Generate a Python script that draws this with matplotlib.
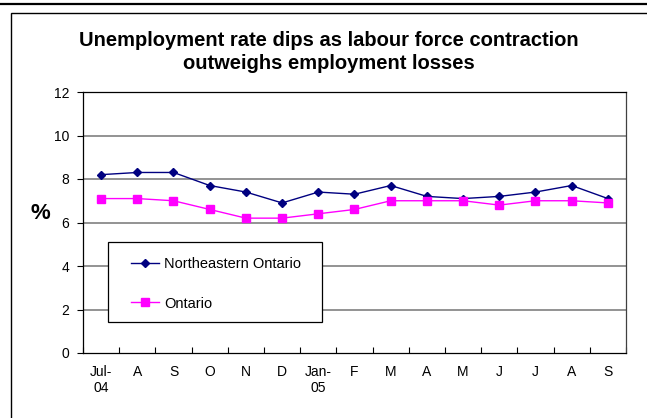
import matplotlib
matplotlib.use("Agg")
import matplotlib.pyplot as plt
from matplotlib.patches import Rectangle
from matplotlib.lines import Line2D

plt.rcParams['font.family'] = ['Liberation Sans', 'DejaVu Sans']

months = ["Jul-\n04", "A", "S", "O", "N", "D", "Jan-\n05", "F", "M", "A", "M", "J", "J", "A", "S"]
ne_ontario = [8.2, 8.3, 8.3, 7.7, 7.4, 6.9, 7.4, 7.3, 7.7, 7.2, 7.1, 7.2, 7.4, 7.7, 7.1]
ontario = [7.1, 7.1, 7.0, 6.6, 6.2, 6.2, 6.4, 6.6, 7.0, 7.0, 7.0, 6.8, 7.0, 7.0, 6.9]
yticks = [0, 2, 4, 6, 8, 10, 12]

W, H = 647, 418
fig = plt.figure(figsize=(W / 100, H / 100), dpi=100)

# top rule and outer frame
fig.add_artist(Line2D([0, 1], [1 - 4 / H, 1 - 4 / H], color="black", lw=1.6))
fig.add_artist(Rectangle((11 / W, -0.1), 1.0, 1 - 13 / H + 0.1, fill=False,
                         edgecolor="black", lw=1.0, transform=fig.transFigure))

L, R, T, B = 83, 626, 92, 353
ax = fig.add_axes([L / W, 1 - B / H, (R - L) / W, (B - T) / H])
x = list(range(len(months)))
ax.plot(x, ne_ontario, color="#000080", marker="D", markersize=4.5, lw=1.0,
        label="Northeastern Ontario")
ax.plot(x, ontario, color="#FF00FF", marker="s", markersize=5.5, lw=1.0,
        label="Ontario")

ax.set_xlim(-0.5, len(months) - 0.5)
ax.set_ylim(0, 12)
ax.set_yticks(yticks)
ax.set_yticklabels([str(v) for v in yticks], fontsize=10)
ax.set_xticks([i - 0.5 for i in range(len(months) + 1)], minor=False)
ax.set_xticklabels([])
ax.set_xticks(x, minor=True)
ax.set_xticklabels(months, minor=True, fontsize=10, va="top", linespacing=1.1)
ax.tick_params(axis="x", which="minor", length=0, pad=9)
ax.tick_params(axis="x", which="major", length=4, direction="in", width=0.8)
ax.tick_params(axis="y", length=4, direction="out", width=0.8, pad=6)
for tl in ax.get_xticklabels(minor=True):
    tl.set_multialignment("center")

for v in yticks[1:-1]:
    ax.axhline(v, color="#808080", lw=1.2, zorder=0)
for s in ax.spines.values():
    s.set_linewidth(0.9)
ax.spines["top"].set_color("black")
ax.spines["right"].set_color("#404040")

fig.text(329 / W, 1 - 52 / H,
         "Unemployment rate dips as labour force contraction\noutweighs employment losses",
         ha="center", va="center", fontsize=14.5, fontweight="bold", linespacing=1.25)
fig.text(40 / W, 1 - 213 / H, "%", ha="center", va="center", fontsize=16, fontweight="bold")

# legend box
def ax_xy(px, py):
    return (px - L) / (R - L), (B - py) / (B - T)

bx0, by0 = ax_xy(108, 322)
bx1, by1 = ax_xy(322, 242)
ax.add_patch(Rectangle((bx0, by0), bx1 - bx0, by1 - by0, transform=ax.transAxes,
                       facecolor="white", edgecolor="black", lw=0.9, zorder=3))
leg = ax.legend(loc="upper left", bbox_to_anchor=ax_xy(131, 257),
                frameon=False, fontsize=10.5, labelspacing=1.75,
                borderpad=0, handlelength=1.9, handletextpad=0.35, borderaxespad=0)
leg.set_zorder(5)

fig.savefig("out.png", dpi=100)
